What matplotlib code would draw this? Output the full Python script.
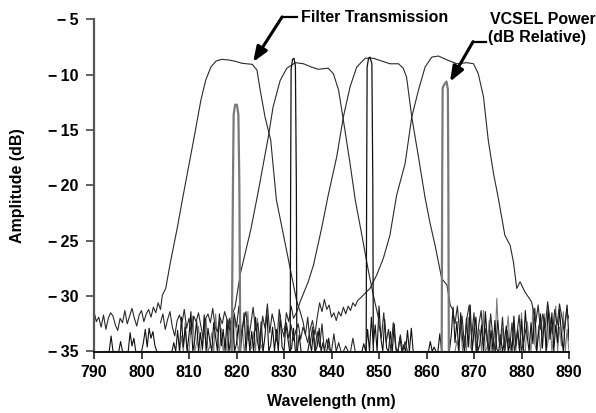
import numpy as np
import matplotlib
matplotlib.use("Agg")
import matplotlib.pyplot as plt
from matplotlib import font_manager

# ---------------- data ----------------
x_ticks = [790, 800, 810, 820, 830, 840, 850, 860, 870, 880, 890]
y_ticks = [-5, -10, -15, -20, -25, -30, -35]

# Filter transmission passbands (wavelength nm, amplitude dB)
f1_x = [804.4, 805.1, 806.1, 807.5, 808.6, 811.1, 812.5, 813.5, 814.6, 815.7, 816.9, 818.2, 819.5,
        821.2, 823.3, 824.3, 825.0, 826.0, 827.2, 828.4, 829.9, 831.3, 832.7, 833.4]
f1_y = [-29.9, -29.3, -26.9, -23.9, -21.3, -15.6, -12.3, -10.5, -9.3, -8.75, -8.6, -8.65, -8.75,
        -8.96, -9.05, -9.56, -11.4, -13.8, -15.9, -21.3, -24.5, -27.5, -30.5, -31.4]

f2_x = [819.7, 820.2, 820.9, 823.0, 824.6, 826.7, 827.7, 829.2, 830.6, 832.4, 834.1, 835.8, 837.2,
        839.3, 840.4, 841.5, 842.5, 843.9, 845.0, 846.4, 847.8, 848.8, 849.9]
f2_y = [-31.0, -29.6, -27.8, -24.0, -20.5, -15.6, -12.9, -10.5, -9.4, -8.9, -9.0, -9.3, -9.5,
        -9.4, -9.9, -11.4, -14.1, -18.0, -21.3, -24.5, -27.8, -29.9, -32.0]

f3_x = [832.7, 833.4, 835.1, 836.2, 837.9, 839.3, 841.1, 842.5, 843.9, 845.3, 847.1, 848.8, 850.9,
        852.3, 854.1, 855.1, 855.8, 856.9, 858.3, 859.7, 860.7, 861.8, 862.5, 863.2, 864.3, 865.0]
f3_y = [-31.4, -30.5, -28.7, -27.2, -23.9, -20.9, -17.4, -13.8, -11.1, -9.3, -8.5, -8.5, -8.8,
        -9.0, -9.0, -9.4, -10.2, -13.8, -17.4, -21.1, -23.3, -25.4, -26.9, -28.4, -29.0, -30.8]

f4_x = [846.0, 848.1, 849.5, 850.9, 852.3, 853.7, 855.5, 856.9, 858.3, 859.7, 861.1, 862.5, 864.6,
        866.4, 868.5, 869.9, 870.9, 872.0, 873.0, 874.1, 875.1, 876.5, 877.6, 878.3, 879.0, 879.7,
        880.7, 882.1]
f4_y = [-30.2, -29.3, -28.1, -26.6, -24.5, -20.9, -18.0, -13.8, -11.4, -9.3, -8.4, -8.3, -8.7,
        -9.0, -8.9, -9.0, -9.9, -12.0, -15.9, -18.9, -21.1, -24.5, -25.4, -26.9, -29.3, -28.7,
        -29.6, -30.5]

# Filter noise floors (start nm, values every 0.5 nm)
f1_floor_start = 790.0
f1_floor = [-31.4, -32.3, -31.9, -32.8, -31.7, -33.0, -32.0, -31.5, -31.8, -32.6, -33.1, -32.0,
            -32.4, -31.3, -32.5, -31.8, -31.1, -32.0, -32.7, -31.7, -31.3, -32.3, -31.6, -31.2,
            -31.9, -31.0, -31.5, -30.6, -31.2]
f1_tail_start = 834.0
f1_tail = [-32.3, -33.5, -31.9, -34.4, -32.8, -35.0, -33.2, -34.6, -32.5, -35.0, -33.9, -34.8,
           -35.0, -33.4, -35.0, -34.2, -35.0, -35.0, -34.5, -35.0, -35.0, -33.8, -35.0, -35.0, -35.0]
f2_floor_start = 804.0
f2_floor = [-32.4, -31.6, -33.0, -32.1, -31.4, -32.8, -33.6, -32.2, -31.7, -32.5, -31.2, -32.9,
            -32.0, -33.4, -31.8, -32.3, -31.5, -32.7, -33.8, -32.0, -31.6, -32.4, -31.1, -32.8,
            -33.2, -31.9, -32.5, -31.4, -32.1, -33.0, -31.7, -31.2]
f2_tail_start = 850.0
f2_tail = [-32.6, -33.8, -31.5, -34.2, -33.0, -35.0, -32.4, -34.6, -35.0, -33.5, -35.0, -34.1, -35.0]
f3_floor_start = 818.0
f3_floor = [-33.5, -32.0, -34.2, -31.5, -32.8, -30.9, -33.6, -32.2, -31.4, -34.0, -32.6, -31.0,
            -33.1, -32.4, -34.4, -31.8, -32.9, -30.7, -33.3, -31.6, -32.5, -34.1, -31.2, -32.8,
            -33.7, -31.5, -32.3, -30.9, -32.0, -31.6]
f3_tail_start = 865.5
f3_tail = [-31.2, -32.5, -30.9, -33.4, -31.8, -34.6, -32.0, -30.8, -33.7, -31.5, -35.0, -32.6,
           -31.3, -34.2, -32.9, -35.0, -31.6, -33.8, -35.0, -32.2, -34.5, -31.9, -35.0, -33.1,
           -34.7, -32.4, -35.0, -33.6, -31.7, -35.0, -34.0, -32.8]
f4_floor_start = 830.0
f4_floor = [-33.0, -32.4, -33.8, -32.6, -34.0, -33.1, -32.5, -33.9, -32.8, -33.4, -34.2, -33.0,
            -32.2, -33.5, -31.9, -30.6, -31.4, -30.3, -31.2, -30.8, -31.9, -31.5, -32.2, -31.4,
            -31.8, -31.0, -31.6, -30.9, -31.3, -30.6, -30.9, -30.4]
f4_tail_start = 882.5
f4_tail = [-31.3, -32.4, -30.8, -33.0, -31.6, -32.8, -30.5, -32.1, -33.4, -31.2, -32.6, -30.7,
           -31.9, -33.2, -31.4, -32.0]

# VCSEL spectra peaks
v1_x = [819.0, 819.25, 819.4, 819.7, 820.1, 820.4, 820.6, 820.8]
v1_y = [-35.0, -20.0, -13.6, -12.7, -12.7, -13.6, -20.0, -35.0]
v2_x = [831.3, 831.4, 831.5, 831.8, 832.1, 832.4, 832.6, 832.7]
v2_y = [-35.0, -20.0, -9.5, -8.6, -8.5, -9.2, -20.0, -35.0]
v3_x = [847.3, 847.4, 847.5, 847.8, 848.1, 848.5, 848.7, 848.8]
v3_y = [-35.0, -20.0, -9.3, -8.5, -8.4, -9.0, -20.0, -35.0]
v4_x = [863.2, 863.3, 863.4, 863.7, 864.2, 864.5, 864.6, 864.7]
v4_y = [-35.0, -20.0, -11.2, -10.9, -10.6, -11.3, -20.0, -35.0]

# VCSEL noise (start nm, values every 0.4 nm)
vn_black = [
    (792.0, [-35, -35, -35, -35, -33.6, -35, -35, -35, -35, -34.1, -35, -35, -35, -35, -33.3, -34.5,
             -33.8, -35, -35, -35, -35, -34.2, -33.0, -34.6, -32.9, -33.8, -33.2, -34.4, -35, -35, -35]),
    (806.0, [-35, -35, -34.2, -35, -33.1, -35, -31.9, -34.6, -32.8, -35, -33.5, -31.4, -35, -34.0,
             -32.2, -35, -33.3, -34.8, -31.7, -35, -32.9, -34.1, -35, -32.4, -33.7, -35, -31.6, -34.5,
             -33.0, -35, -32.1, -35, -33.9, -31.8, -35, -34.3, -32.6, -35, -33.4, -31.5, -35, -32.7,
             -34.9, -33.2, -35, -31.9, -34.0, -35, -32.3, -35, -33.6, -31.3, -35, -34.4, -32.8, -35,
             -33.0, -35, -31.7, -34.6, -35, -32.5, -33.8, -35, -34.7, -32.9, -35, -35, -33.5, -35, -35]),
    (835.0, [-35, -34.0, -35, -33.1, -35, -34.5, -32.9, -35, -34.2, -35, -35, -33.8, -35]),
    (846.0, [-35, -35, -34.3, -35, -33.0, -35, -31.9, -34.4, -32.6, -35, -30.9, -33.8, -35, -32.1,
             -34.7, -35, -33.2, -35, -32.5, -34.9, -35, -33.7, -35, -34.4, -35, -33.1, -35]),
    (856.4, [-35, -32.9, -35, -35, -35, -35, -35, -35, -35, -35, -35, -34.1, -35, -34.6, -35, -35,
             -33.4, -35, -35, -35]),
    (864.8, [-35, -33.6, -31.0, -34.2, -32.3, -35, -31.5, -33.9, -35, -32.0, -34.6, -30.8, -35, -33.2,
             -31.9, -35, -34.4, -32.6, -35, -31.4, -34.0, -35, -33.1, -35, -32.2, -34.8, -35, -33.5,
             -35, -34.1, -32.7, -35, -33.8, -35, -31.8, -34.5, -33.0, -35, -32.1, -34.9, -31.3, -33.6,
             -35, -32.4, -34.3, -31.1, -35, -33.3, -31.6, -34.7, -32.0, -35, -30.9, -33.9, -31.5, -35,
             -32.6, -34.2, -31.2, -33.4, -35, -32.3, -30.8, -34.0]),
]
vn_gray = [
    (808.0, [-35, -33.6, -35, -32.4, -34.7, -35, -33.0, -31.8, -35, -34.2, -32.7, -35, -35, -33.4,
             -32.1, -35, -34.5, -33.3, -35, -31.6, -34.0, -35, -32.9, -35, -33.7, -35, -32.2, -34.8,
             -35, -31.9, -33.5, -35, -34.1, -32.6, -35, -33.9, -31.4, -35, -34.6, -33.2, -35, -32.0,
             -35, -34.4, -35, -35]),
    (866.0, [-35, -34.0, -35, -32.8, -35, -33.6, -35, -31.9, -34.5, -35, -32.5, -35, -34.1, -33.0,
             -35, -31.3, -35, -34.6, -32.2, -35, -33.7, -35, -30.2, -34.0, -35, -32.9, -35, -33.5,
             -31.8, -35, -34.3, -32.6, -35, -33.1, -35, -31.5, -34.8, -35, -32.3, -33.9, -35, -31.0,
             -34.4, -35, -32.7, -35, -33.3, -31.6, -35, -34.1, -32.0, -35, -33.6, -30.9, -35, -32.8,
             -34.5, -31.4, -35, -33.0, -35]),
]

# ---------------- style ----------------
names = {f.name for f in font_manager.fontManager.ttflist}
fam = ['Liberation Sans Narrow'] if 'Liberation Sans Narrow' in names else ['Liberation Sans']
plt.rcParams['font.family'] = fam + ['DejaVu Sans']
plt.rcParams['font.weight'] = 'bold'
FS = 11.5

BLACK = '#111111'
GRAY = '#7a7a7a'
FCOL = '#2a2a2a'

fig = plt.figure(figsize=(5.96, 4.13), dpi=100)
ax = fig.add_axes([94 / 596, 1 - 351.5 / 413, 475 / 596, 332 / 413])

def floor_xy(start, vals, step=0.5):
    return start + step * np.arange(len(vals)), np.asarray(vals, float)

# VCSEL noise
for start, vals in vn_gray:
    xx, yy = floor_xy(start, vals, 0.4)
    ax.plot(xx, yy, color=GRAY, lw=0.8)
for start, vals in vn_black:
    xx, yy = floor_xy(start, vals, 0.4)
    ax.plot(xx, yy, color=BLACK, lw=0.8)

# Filters with floors
for fs, fv, px, py, ts, tv in [
    (f1_floor_start, f1_floor, f1_x, f1_y, f1_tail_start, f1_tail),
    (f2_floor_start, f2_floor, f2_x, f2_y, f2_tail_start, f2_tail),
    (f3_floor_start, f3_floor, f3_x, f3_y, f3_tail_start, f3_tail),
    (f4_floor_start, f4_floor, f4_x, f4_y, f4_tail_start, f4_tail),
]:
    ax_, ay_ = floor_xy(fs, fv)
    bx_, by_ = floor_xy(ts, tv)
    xx = np.concatenate([ax_, px, bx_])
    yy = np.concatenate([ay_, py, by_])
    ax.plot(xx, yy, color=FCOL, lw=0.8)

# VCSEL peaks
ax.plot(v1_x, v1_y, color=GRAY, lw=1.6)
ax.plot(v4_x, v4_y, color=GRAY, lw=1.6)
ax.plot(v2_x, v2_y, color=BLACK, lw=0.9)
ax.plot(v3_x, v3_y, color=BLACK, lw=0.9)

ax.set_xlim(790, 890)
ax.set_ylim(-35, -5)
ax.set_xticks(x_ticks)
ax.set_xticklabels([str(v) for v in x_ticks], fontsize=FS, fontweight='bold')
ax.set_yticks(y_ticks)
ax.set_yticklabels(['\u2212\u2009' + str(abs(v)) for v in y_ticks], fontsize=FS, fontweight='bold')
ax.tick_params(axis='y', direction='out', length=6, width=1.3, color='#555555', pad=5)
ax.tick_params(axis='x', direction='out', length=5, width=1.3, color='#333333', pad=5)
for s in ['top', 'right']:
    ax.spines[s].set_visible(False)
ax.spines['left'].set_color('#555555')
ax.spines['left'].set_linewidth(1.6)
ax.spines['bottom'].set_color('#111111')
ax.spines['bottom'].set_linewidth(1.4)

ax.set_xlabel('Wavelength (nm)', fontsize=FS, fontweight='bold')
ax.set_ylabel('Amplitude (dB)', fontsize=FS, fontweight='bold')
ax.xaxis.set_label_coords(0.5, (351.5 - 394) / 332)
ax.yaxis.set_label_coords((25 - 94) / 475, 0.5)

# Annotations
ax.plot([829.6, 832.7], [-4.77, -4.77], color='black', lw=1.6, clip_on=False)
ax.annotate('', xy=(823.5, -8.84), xytext=(829.6, -4.77), xycoords='data',
            arrowprops=dict(arrowstyle='-|>,head_width=0.35,head_length=0.9', lw=2.2,
                            color='black', shrinkA=0, shrinkB=0), annotation_clip=False)
ax.text(833.6, -4.82, 'Filter Transmission', fontsize=FS, fontweight='bold',
        ha='left', va='center', clip_on=False)

ax.plot([869.8, 872.5], [-7.0, -7.0], color='black', lw=1.6, clip_on=False)
ax.annotate('', xy=(864.95, -10.62), xytext=(869.8, -7.0), xycoords='data',
            arrowprops=dict(arrowstyle='-|>,head_width=0.35,head_length=0.9', lw=2.2,
                            color='black', shrinkA=0, shrinkB=0), annotation_clip=False)
ax.text(873.4, -5.0, 'VCSEL Power', fontsize=FS, fontweight='bold',
        ha='left', va='center', clip_on=False)
ax.text(872.9, -6.67, '(dB Relative)', fontsize=FS, fontweight='bold',
        ha='left', va='center', clip_on=False)

fig.savefig('out.png', dpi=100)
